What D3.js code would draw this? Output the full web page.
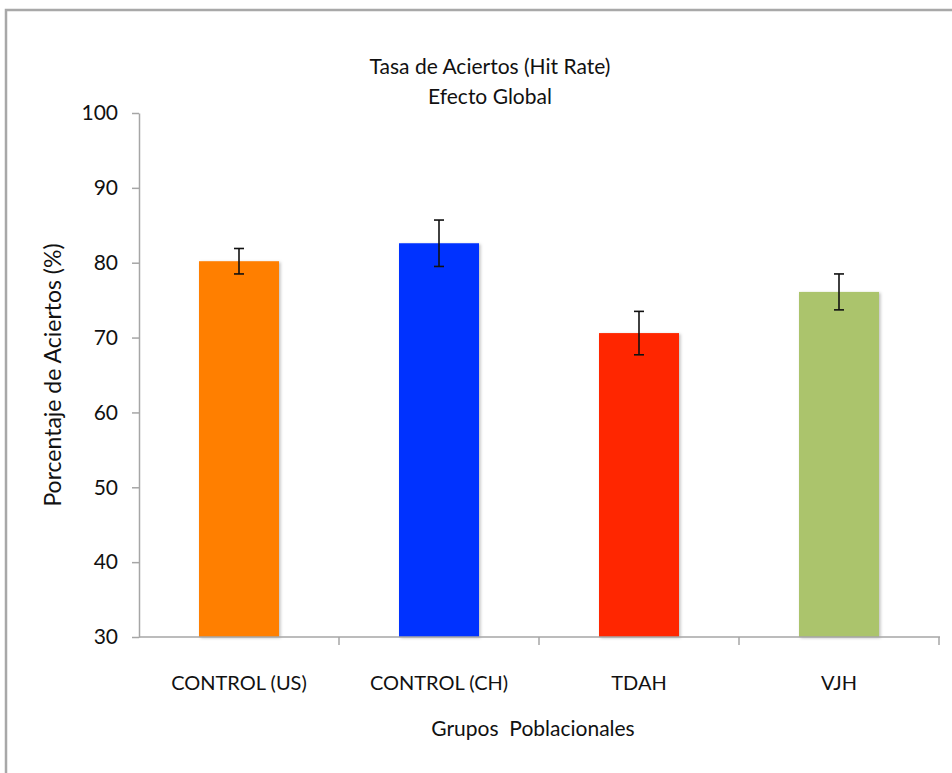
<!DOCTYPE html>
<html>
<head>
<meta charset="utf-8">
<script src="https://cdn.jsdelivr.net/npm/d3@7"></script>
<style>
  html, body { margin: 0; padding: 0; background: #fff; }
  svg { display: block; font-family: Lato, "Open Sans", sans-serif; }
</style>
</head>
<body>
<svg id="chart" width="952" height="773"></svg>
<script>
(function() {
  'use strict';

  // data
  const groups = ['CONTROL (US)', 'CONTROL (CH)', 'TDAH', 'VJH'];
  const hitRate = [80.2, 82.6, 70.6, 76.1];
  const errors = [1.7, 3.1, 2.9, 2.4];
  const colors = ['#ff7f00', '#0432ff', '#ff2600', '#abc46c'];
  const yTicks = [30, 40, 50, 60, 70, 80, 90, 100];

  const svg = d3.select('#chart');
  const axisColor = '#a6a6a6';

  const margin = { left: 139, right: 12, top: 113, bottom: 136 };
  const width = 952, height = 773;

  const x = d3.scaleBand()
    .domain(groups)
    .range([margin.left, margin.left + 800])
    .paddingInner(0.6)
    .paddingOuter(0.3);

  const y = d3.scaleLinear()
    .domain([30, 100])
    .range([height - margin.bottom, margin.top]);

  const defs = svg.append('defs');
  const shadow = defs.append('filter').attr('id', 'barShadow')
    .attr('x', '-10%').attr('y', '-10%').attr('width', '130%').attr('height', '130%');
  shadow.append('feDropShadow')
    .attr('dx', 1.5).attr('dy', 1).attr('stdDeviation', 1.5)
    .attr('flood-color', '#000').attr('flood-opacity', 0.25);

  // outer frame (cropped at right and bottom)
  svg.append('path')
    .attr('d', 'M6,' + height + 'V10H' + width)
    .attr('fill', 'none')
    .attr('stroke', '#a8a8a8')
    .attr('stroke-width', 2.5);

  // title
  const title = svg.append('text')
    .attr('text-anchor', 'middle')
    .attr('font-size', 21)
    .attr('fill', '#111');
  title.append('tspan').attr('x', 490).attr('y', 74).text('Tasa de Aciertos (Hit Rate)');
  title.append('tspan').attr('x', 490).attr('y', 104).text('Efecto Global');

  // bars
  svg.append('g')
    .selectAll('rect')
    .data(groups)
    .join('rect')
    .attr('x', d => x(d))
    .attr('width', x.bandwidth())
    .attr('y', (d, i) => y(hitRate[i]))
    .attr('height', (d, i) => y(30) - y(hitRate[i]))
    .attr('fill', (d, i) => colors[i])
    .attr('filter', 'url(#barShadow)');

  // error bars
  const eb = svg.append('g')
    .attr('stroke', '#111')
    .attr('stroke-width', 1.6)
    .selectAll('g')
    .data(groups)
    .join('g')
    .attr('transform', d => `translate(${x(d) + x.bandwidth() / 2},0)`);
  eb.append('line')
    .attr('y1', (d, i) => y(hitRate[i] + errors[i]))
    .attr('y2', (d, i) => y(hitRate[i] - errors[i]));
  eb.append('line').attr('x1', -5).attr('x2', 5)
    .attr('y1', (d, i) => y(hitRate[i] + errors[i]))
    .attr('y2', (d, i) => y(hitRate[i] + errors[i]));
  eb.append('line').attr('x1', -5).attr('x2', 5)
    .attr('y1', (d, i) => y(hitRate[i] - errors[i]))
    .attr('y2', (d, i) => y(hitRate[i] - errors[i]));

  // y axis
  const yAxis = svg.append('g')
    .attr('transform', `translate(${margin.left},0)`)
    .call(d3.axisLeft(y).tickValues(yTicks).tickSize(7).tickSizeOuter(0).tickPadding(14));
  yAxis.select('.domain').attr('stroke', axisColor).attr('stroke-width', 1.5);
  yAxis.selectAll('.tick line').attr('stroke', axisColor).attr('stroke-width', 1.5);
  yAxis.selectAll('.tick text')
    .attr('font-size', 21)
    .attr('font-family', 'Lato, "Open Sans", sans-serif')
    .attr('fill', '#111');

  // x axis: ticks sit between categories
  const xAxisG = svg.append('g')
    .attr('transform', `translate(0,${y(30)})`);
  xAxisG.append('line')
    .attr('x1', margin.left).attr('x2', margin.left + 801)
    .attr('stroke', axisColor).attr('stroke-width', 1.5);
  xAxisG.selectAll('line.sep')
    .data(groups)
    .join('line')
    .attr('class', 'sep')
    .attr('x1', d => x(d) + x.bandwidth() + x.step() * x.paddingInner() / 2)
    .attr('x2', d => x(d) + x.bandwidth() + x.step() * x.paddingInner() / 2)
    .attr('y1', 0).attr('y2', 8)
    .attr('stroke', axisColor).attr('stroke-width', 1.5);
  xAxisG.selectAll('text')
    .data(groups)
    .join('text')
    .attr('x', d => x(d) + x.bandwidth() / 2)
    .attr('y', 53)
    .attr('text-anchor', 'middle')
    .attr('font-size', 20)
    .attr('fill', '#111')
    .text(d => d);

  // axis titles
  svg.append('text')
    .attr('x', 533).attr('y', 736)
    .attr('text-anchor', 'middle')
    .attr('font-size', 21)
    .attr('fill', '#111')
    .style('white-space', 'pre')
    .text('Grupos  Poblacionales');

  svg.append('text')
    .attr('transform', 'translate(61,375) rotate(-90)')
    .attr('text-anchor', 'middle')
    .attr('font-size', 23)
    .attr('fill', '#111')
    .text('Porcentaje de Aciertos (%)');
})();
</script>
</body>
</html>
